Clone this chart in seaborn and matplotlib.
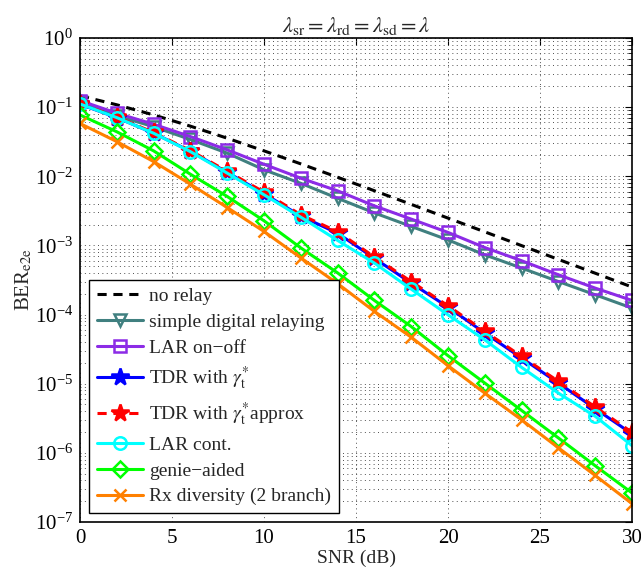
import matplotlib
matplotlib.use("Agg")
import matplotlib.pyplot as plt
from matplotlib.ticker import LogLocator, NullFormatter, MultipleLocator
import seaborn as sns
import pandas as pd

snr_db = [0, 2, 4, 6, 8, 10, 12, 14, 16, 18, 20, 22, 24, 26, 28, 30]

ber_no_relay = [0.146, 0.108, 0.0771, 0.0530, 0.0355, 0.0233, 0.0151, 0.00967,
                0.00617, 0.00392, 0.00248, 0.00157, 0.000992, 0.000627, 0.000396, 0.000250]
ber_simple_digital = [0.118, 0.075, 0.052, 0.034, 0.0216, 0.0124, 0.0079, 0.0048,
                      0.00295, 0.00188, 0.00120, 0.00073, 0.00047, 0.00030, 0.000193, 0.000124]
ber_lar_onoff = [0.124, 0.0817, 0.0565, 0.0375, 0.0241, 0.0149, 0.00938, 0.00615,
                 0.00373, 0.00240, 0.00154, 0.00093, 0.00060, 0.000376, 0.000241, 0.000160]
ber_tdr = [0.110, 0.0705, 0.0420, 0.0230, 0.0114, 0.0056, 0.00265, 0.00150,
           0.00065, 0.000285, 0.000128, 5.4e-05, 2.35e-05, 1.02e-05, 4.35e-06, 1.88e-06]
ber_tdr_approx = [0.112, 0.072, 0.043, 0.0235, 0.0118, 0.0059, 0.00277, 0.00158,
                  0.00068, 0.000300, 0.000134, 5.7e-05, 2.48e-05, 1.08e-05, 4.6e-06, 1.98e-06]
ber_lar_cont = [0.111, 0.0705, 0.0419, 0.0227, 0.0111, 0.0054, 0.00256, 0.00118,
                0.000555, 0.000233, 9.9e-05, 4.3e-05, 1.72e-05, 7.3e-06, 3.37e-06, 1.27e-06]
ber_genie = [0.077, 0.044, 0.0233, 0.0107, 0.0051, 0.00227, 0.00092, 0.00040,
             0.00016, 6.7e-05, 2.54e-05, 1.02e-05, 4.1e-06, 1.64e-06, 6.5e-07, 2.63e-07]
ber_rx_div = [0.058, 0.0317, 0.0163, 0.00768, 0.00353, 0.00159, 0.00066, 0.00028,
              0.000111, 4.7e-05, 1.82e-05, 7.3e-06, 3.0e-06, 1.18e-06, 4.7e-07, 1.84e-07]

series_labels = [
    "no relay",
    "simple digital relaying",
    "LAR on\u2212off",
    r"TDR with $\gamma_{\mathrm{t}}^{*}$",
    r"TDR with $\gamma_{\mathrm{t}}^{*}$approx",
    "LAR cont.",
    "genie\u2212aided",
    "Rx diversity (2 branch)",
]
series_values = [ber_no_relay, ber_simple_digital, ber_lar_onoff, ber_tdr,
                 ber_tdr_approx, ber_lar_cont, ber_genie, ber_rx_div]

styles = [
    dict(color="black", marker=None, linestyle=(0, (3.0, 2.2)), mfc="none"),
    dict(color="#408080", marker="v", linestyle="-", mfc="none"),
    dict(color="#8c2be6", marker="s", linestyle="-", mfc="none"),
    dict(color="#0000ff", marker="*", linestyle="-", mfc="#0000ff"),
    dict(color="#ff0000", marker="*", linestyle=(0, (3.0, 2.2)), mfc="#ff0000"),
    dict(color="#00ffff", marker="o", linestyle="-", mfc="none"),
    dict(color="#00ff00", marker="D", linestyle="-", mfc="none"),
    dict(color="#ff8000", marker="x", linestyle="-", mfc="none"),
]

sns.set_theme(style="white")
plt.rcParams["font.family"] = ["Liberation Serif", "DejaVu Serif"]
plt.rcParams["mathtext.fontset"] = "stix"
plt.rcParams["font.size"] = 14

fig = plt.figure(figsize=(6.41, 5.76), dpi=100)
ax = fig.add_axes([0.1248, 0.0938, 0.8612, 0.8403])

for label, vals, st in zip(series_labels, series_values, styles):
    df = pd.DataFrame({"snr": snr_db, "ber": vals})
    if st["marker"] == "*":
        msize = 13
    elif st["marker"] == "D":
        msize = 8
    else:
        msize = 9
    sns.lineplot(data=df, x="snr", y="ber", ax=ax, label=label,
                 color=st["color"], marker=st["marker"], linestyle=st["linestyle"],
                 markerfacecolor=st["mfc"], markeredgecolor=st["color"],
                 markersize=msize, markeredgewidth=1.8, linewidth=2.2)

ax.set_yscale("log")
ax.set_xlim(0, 30)
ax.set_ylim(1e-7, 1)
ax.xaxis.set_major_locator(MultipleLocator(5))
ax.yaxis.set_major_locator(LogLocator(base=10, numticks=10))
ax.yaxis.set_minor_locator(LogLocator(base=10, subs=range(2, 10), numticks=20))
ax.yaxis.set_minor_formatter(NullFormatter())

ax.grid(True, which="major", axis="both", linestyle=(0, (1, 3.5)), color="#505050", linewidth=0.7)
ax.grid(True, which="minor", axis="y", linestyle=(0, (1, 3.5)), color="#505050", linewidth=0.7)

ax.tick_params(axis="both", which="both", direction="in", top=True, right=True,
               labelsize=15, colors="black")
ax.tick_params(axis="both", which="major", length=5, width=0.8, pad=5)
ax.tick_params(axis="y", which="minor", length=3, width=0.6)
for sp in ax.spines.values():
    sp.set_color("black")
    sp.set_linewidth(1.2)

ax.set_xlabel("SNR (dB)", fontsize=14, labelpad=1)
ax.set_ylabel(r"BER$_{\mathrm{e2e}}$", fontsize=15, labelpad=0)
ax.set_title(r"$\lambda_{\mathrm{sr}} = \lambda_{\mathrm{rd}} = \lambda_{\mathrm{sd}} = \lambda$",
             fontsize=16, pad=4)

leg = ax.legend(loc="lower left", fontsize=14, frameon=True, fancybox=False,
                edgecolor="black", framealpha=1, handlelength=2.4, numpoints=1,
                labelspacing=0.42, borderpad=0.4, handletextpad=0.3,
                borderaxespad=0.45)
leg.get_frame().set_linewidth(1.0)

fig.savefig("out.png", dpi=100)
